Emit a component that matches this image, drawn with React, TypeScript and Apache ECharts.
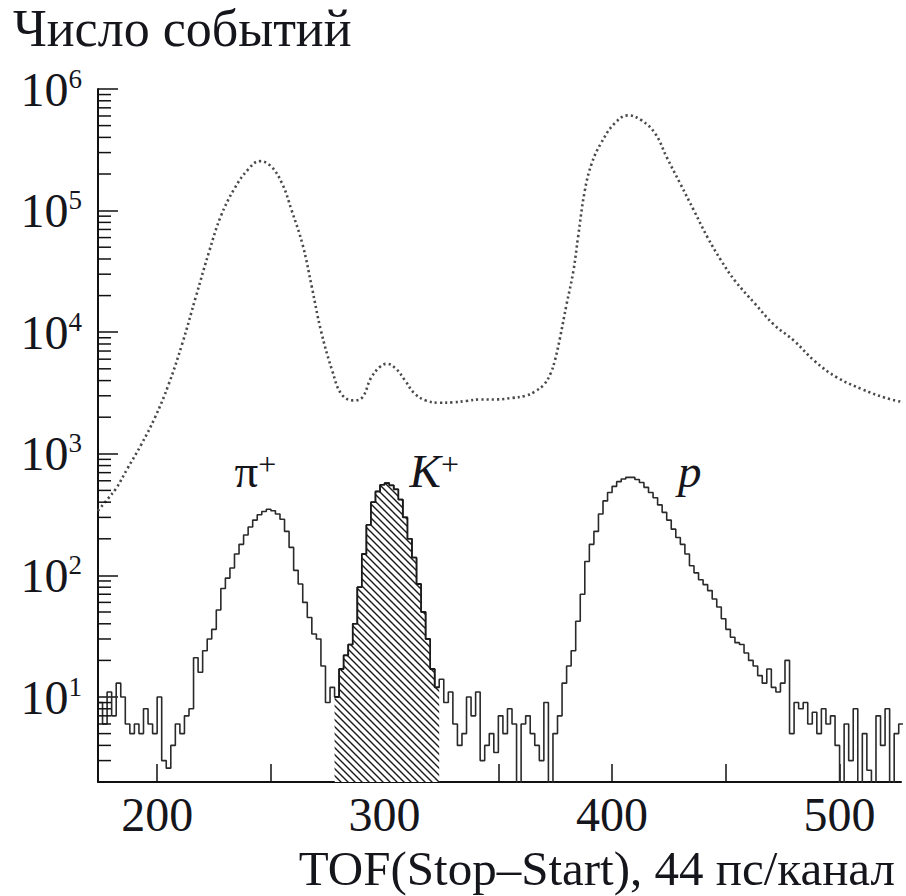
import React, { useEffect, useRef } from 'react';
import * as echarts from 'echarts';

// Axis ranges
const X_MIN = 174;
const X_MAX = 527;
const Y_MIN = 2;
const Y_MAX = 1e6;

// Upper spectrum (all triggers): TOF channel and counts
const allTof = [
  174, 178, 182, 187, 193, 199, 205, 211, 217, 223,
  228, 234, 240, 245, 250, 255, 259, 264, 268, 272,
  277, 281, 286, 290, 294, 298, 301, 305, 309, 313,
  318, 324, 330, 336, 342, 349, 356, 362, 366, 370,
  373, 375, 377, 380, 383, 385, 388, 391, 395, 401,
  407, 413, 419, 424, 430, 436, 442, 448, 454, 463,
  471, 480, 489, 499, 510, 520, 527,
];
const allCounts = [
  340, 420, 520, 760, 1190, 1980, 3700, 8000, 19500, 47000,
  90000, 152000, 218000, 255000, 232000, 166000, 102000, 52000, 23500, 10300,
  4800, 3100, 2750, 2880, 4200, 5200, 5500, 5000, 4000, 3150,
  2750, 2630, 2650, 2720, 2800, 2800, 2880, 3000, 3250, 3700,
  4600, 6000, 8800, 17000, 32000, 60000, 146000, 243000, 355000, 519000,
  607000, 552000, 429000, 275000, 166000, 100000, 60000, 38700, 26500, 17000,
  11600, 8500, 5800, 4230, 3390, 2890, 2680,
];

// Selected spectrum: histogram with 2-channel bins starting at channel 174
// (1 stands for an empty bin, below the axis floor)
const histStart = 174;
const histBin = 2;
const histCounts = [
  9, 6, 11, 7, 13, 10, 6, 5, 6, 5,
  8, 6, 5, 10, 3, 2.6, 4, 6, 5, 7,
  8, 21, 16, 24, 30, 36, 52, 78, 95, 115,
  150, 180, 215, 250, 285, 315, 335, 350, 340, 320,
  290, 230, 170, 110, 85, 60, 45, 33, 30, 18,
  9, 12, 10, 17, 22, 27, 40, 80, 150, 260,
  400, 490, 555, 575, 550, 510, 420, 300, 200, 140,
  85, 50, 30, 17, 12, 14, 9, 11, 6, 4,
  5, 10, 7, 11, 3, 4, 5, 3.5, 7, 5,
  8, 6, 1, 6, 7, 5, 4, 3, 9, 1,
  5, 7, 13, 18, 24, 42, 70, 130, 180, 230,
  320, 410, 480, 540, 590, 620, 640, 640, 615, 580,
  530, 480, 435, 380, 330, 285, 240, 205, 180, 150,
  120, 105, 92, 84, 75, 64, 55, 44, 36, 31,
  28, 27, 23, 20, 18, 15, 13, 17, 12, 11,
  13, 20, 5, 9, 8, 9, 6, 7.5, 5, 8,
  6, 7, 4, 1, 6, 3, 8, 1, 5, 2.5,
  1, 7, 4, 8, 1, 5, 6,
];

// Kaon selection window (hatched)
const kaonFrom = 278;
const kaonTo = 324;

// Ticks and labels
const xTickValues = [200, 250, 300, 350, 400, 450, 500];
const xLabelValues = [200, 300, 400, 500];
const minorMantissas = [2, 3, 4, 5, 6, 7, 8, 9];
const decades = [1, 10, 100, 1000, 10000, 100000];

// Axis titles
const yTitle = 'Число событий';
const xTitle = 'TOF(Stop–Start), 44 пс/канал';

// Peak annotations
const peakNames = ['π', 'K', 'p'];
const peakSup = ['+', '+', ''];
const peakItalic = [false, true, true];
const peakTof = [234, 311, 429];
const peakCounts = [463, 463, 463];

const SERIF = "'Liberation Serif', 'Times New Roman', Times, serif";
const INK = '#15151c';

function makeHatch(): HTMLCanvasElement {
  const s = 7;
  const c = document.createElement('canvas');
  c.width = s;
  c.height = s;
  const g = c.getContext('2d')!;
  g.fillStyle = '#ffffff';
  g.fillRect(0, 0, s, s);
  g.strokeStyle = '#1a1a1a';
  g.lineWidth = 1.4;
  g.beginPath();
  g.moveTo(-1, -1);
  g.lineTo(s + 1, s + 1);
  g.moveTo(-1, s - 1);
  g.lineTo(1, s + 1);
  g.moveTo(s - 1, -1);
  g.lineTo(s + 1, 1);
  g.stroke();
  return c;
}

export default function App() {
  const ref = useRef<HTMLDivElement>(null);

  useEffect(() => {
    if (!ref.current) return;
    const chart = echarts.init(ref.current, undefined, { renderer: 'svg' });

    const histData: number[][] = histCounts.map((c, i) => [histStart + i * histBin, c]);
    histData.push([histStart + histCounts.length * histBin, histCounts[histCounts.length - 1]]);

    const kaonData: number[][] = histData.filter((d) => d[0] >= kaonFrom && d[0] < kaonTo);
    kaonData.push([kaonTo, kaonData[kaonData.length - 1][1]]);

    const upperData = allTof.map((x, i) => [x, allCounts[i]]);

    const minorTicks: number[][] = [];
    decades.forEach((d) =>
      minorMantissas.forEach((m) => {
        const v = m * d;
        if (v > Y_MIN && v < Y_MAX) minorTicks.push([X_MIN, v]);
      })
    );

    const titleText = { fontFamily: SERIF, fontSize: 52, fontWeight: 'normal', color: INK };

    const option: any = {
      animation: false,
      backgroundColor: '#ffffff',
      title: [
        { text: yTitle, left: 13, top: 2, padding: 0, textStyle: titleText },
        {
          text: xTitle,
          right: 11,
          top: 846,
          padding: 0,
          textStyle: { ...titleText, fontSize: 49, lineHeight: 44 },
        },
      ],
      grid: { left: 98, right: 5, top: 89, bottom: 114, containLabel: false, outerBoundsMode: 'none' },
      xAxis: {
        type: 'value',
        min: X_MIN,
        max: X_MAX,
        axisLine: { lineStyle: { color: '#111', width: 2 } },
        axisTick: {
          inside: true,
          length: 18,
          customValues: xTickValues,
          lineStyle: { color: '#111', width: 1.5 },
        },
        axisLabel: {
          customValues: xLabelValues,
          fontFamily: SERIF,
          fontSize: 48,
          lineHeight: 44,
          color: INK,
          margin: 10,
        },
        splitLine: { show: false },
      },
      yAxis: {
        type: 'log',
        logBase: 10,
        min: Y_MIN,
        max: Y_MAX,
        axisLine: { show: true, lineStyle: { color: '#111', width: 2 } },
        axisTick: { inside: true, length: 20, lineStyle: { color: '#111', width: 1.5 } },
        axisLabel: {
          margin: 16,
          formatter: (v: number) => {
            const e = Math.log10(v);
            const r = Math.round(e);
            if (Math.abs(e - r) > 1e-6) return '';
            return `{b|10}{s|${r}}`;
          },
          rich: {
            b: { fontFamily: SERIF, fontSize: 48, lineHeight: 48, color: INK },
            s: { fontFamily: SERIF, fontSize: 27, lineHeight: 27, color: INK, verticalAlign: 'top' },
          },
        },
        splitLine: { show: false },
        minorTick: { show: false },
      },
      series: [
        {
          name: 'all',
          type: 'line',
          data: upperData,
          smooth: 0.4,
          symbol: 'none',
          lineStyle: { color: '#4a4a4a', width: 2.6, type: [2.2, 3] },
          z: 2,
        },
        {
          name: 'selected',
          type: 'line',
          data: histData,
          step: 'end',
          symbol: 'none',
          clip: true,
          lineStyle: { color: '#2a2a2a', width: 1.6 },
          z: 3,
        },
        {
          name: 'kaons',
          type: 'line',
          data: kaonData,
          step: 'end',
          symbol: 'none',
          clip: true,
          lineStyle: { color: '#1a1a1a', width: 1.8 },
          areaStyle: {
            origin: 'start',
            opacity: 1,
            color: { image: makeHatch(), repeat: 'repeat' },
          },
          z: 4,
        },
        {
          name: 'minorTicks',
          type: 'custom',
          coordinateSystem: 'cartesian2d',
          data: minorTicks,
          silent: true,
          clip: false,
          z: 6,
          renderItem: (_p: any, api: any) => {
            const pt = api.coord([api.value(0), api.value(1)]);
            return {
              type: 'line',
              shape: { x1: pt[0], y1: pt[1], x2: pt[0] + 13, y2: pt[1] },
              style: { stroke: '#111', lineWidth: 1.5 },
            };
          },
        },
        {
          name: 'peaks',
          type: 'scatter',
          symbolSize: 0.1,
          itemStyle: { color: 'transparent' },
          silent: true,
          z: 7,
          data: peakTof.map((x, i) => ({ value: [x, peakCounts[i]], name: peakNames[i] })),
          label: {
            show: true,
            position: [0, 0],
            align: 'left',
            verticalAlign: 'bottom',
            color: INK,
            opacity: 1,
            textBorderWidth: 0,
            formatter: (p: any) => {
              const i = p.dataIndex;
              const main = peakItalic[i] ? `{it|${peakNames[i]}}` : `{up|${peakNames[i]}}`;
              return peakSup[i] ? `${main}{sup|${peakSup[i]}}` : main;
            },
            rich: {
              up: { fontFamily: SERIF, fontSize: 47, lineHeight: 46, color: INK },
              it: { fontFamily: SERIF, fontSize: 47, lineHeight: 46, fontStyle: 'italic', color: INK },
              sup: { fontFamily: SERIF, fontSize: 32, lineHeight: 30, color: INK, verticalAlign: 'top' },
            },
          },
        },
      ],
    };

    chart.setOption(option);
    return () => chart.dispose();
  }, []);

  return (
    <div
      ref={ref}
      style={{ position: 'fixed', left: 0, top: 0, width: 906, height: 896, background: '#fff' }}
    />
  );
}
